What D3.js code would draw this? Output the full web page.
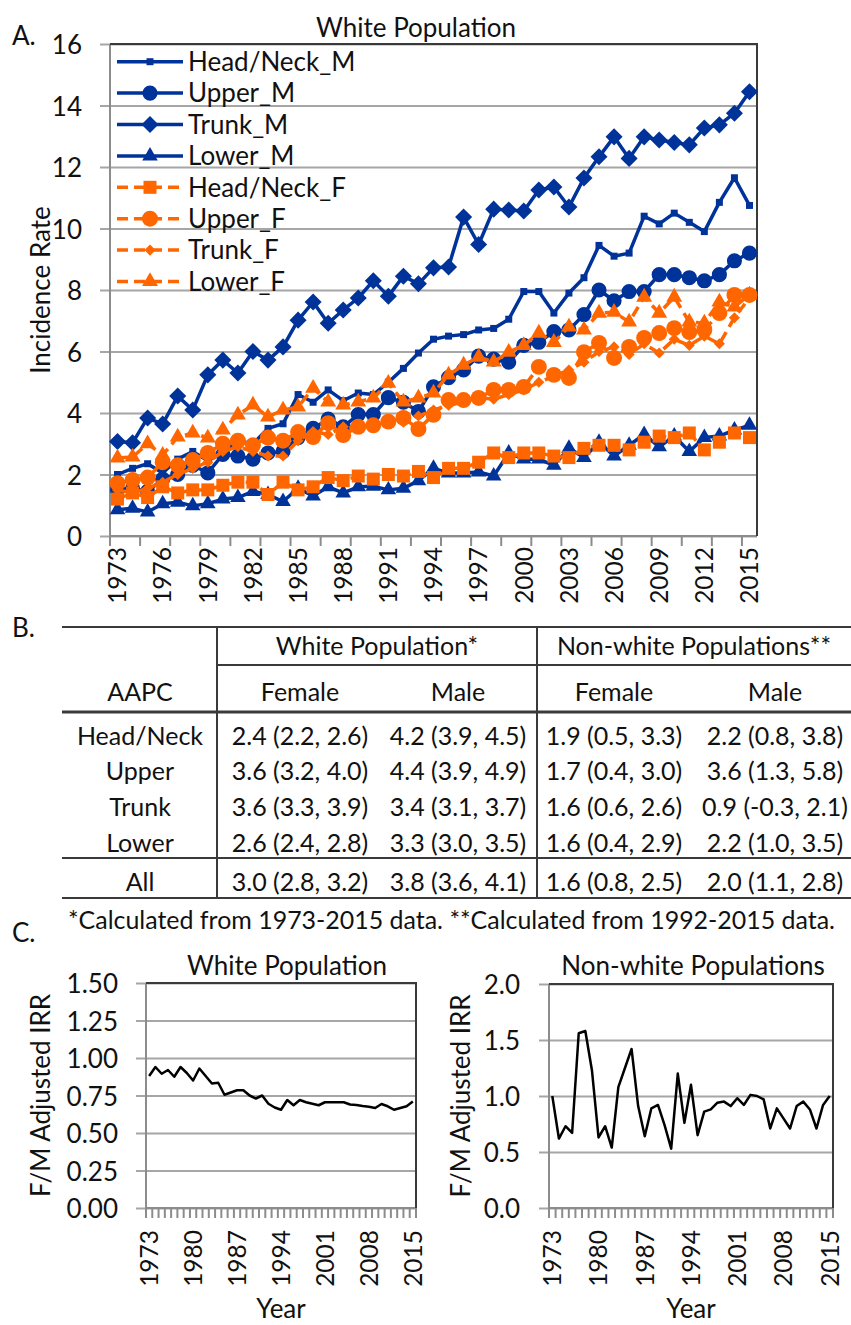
<!doctype html>
<html>
<head>
<meta charset="UTF-8">
<title>Melanoma incidence by site</title>
<script src="https://cdn.jsdelivr.net/npm/d3@7"></script>
<style>
  body { margin: 0; background: #fff; }
  svg text { font-family: Lato, "Open Sans", sans-serif; font-size: 26px; fill: #111; }
  svg text.cell { font-size: 25px; }
  svg text.yr { font-size: 24.5px; }
  svg text.note { font-size: 25px; }
</style>
</head>
<body>
<svg id="fig" width="851" height="1325"></svg>
<script>
// ---------------- data ----------------
var years = d3.range(1973, 2016);

// panel A, white population incidence rates
var headNeckM = [2.0, 2.2, 2.35, 2.05, 2.5, 2.75, 2.45, 2.7, 3.1, 3.0, 3.5, 3.65, 4.6, 4.35, 4.75, 4.4, 4.65, 4.6, 5.0, 5.45, 5.95, 6.4, 6.5, 6.55, 6.7, 6.75, 7.05, 7.95, 7.95, 7.25, 7.9, 8.4, 9.45, 9.1, 9.2, 10.4, 10.15, 10.5, 10.2, 9.9, 10.85, 11.65, 10.75];
var upperM    = [1.5, 1.55, 1.45, 1.85, 2.0, 2.3, 2.05, 2.65, 2.6, 2.5, 2.7, 2.75, 3.2, 3.5, 3.8, 3.55, 3.95, 3.95, 4.5, 4.35, 4.05, 4.85, 5.15, 5.4, 5.85, 5.75, 5.65, 6.2, 6.3, 6.65, 6.7, 7.2, 8.0, 7.65, 7.95, 7.95, 8.5, 8.5, 8.4, 8.3, 8.5, 8.95, 9.2];
var trunkM    = [3.07, 3.03, 3.84, 3.64, 4.55, 4.1, 5.24, 5.72, 5.3, 6.0, 5.72, 6.15, 7.02, 7.61, 6.92, 7.35, 7.74, 8.3, 7.8, 8.45, 8.2, 8.72, 8.75, 10.37, 9.48, 10.63, 10.6, 10.57, 11.25, 11.35, 10.7, 11.64, 12.33, 12.98, 12.28, 12.98, 12.88, 12.8, 12.72, 13.27, 13.37, 13.75, 14.45];
var lowerM    = [0.85, 0.9, 0.78, 1.05, 1.1, 0.98, 1.05, 1.2, 1.25, 1.45, 1.35, 1.12, 1.55, 1.3, 1.6, 1.4, 1.6, 1.62, 1.5, 1.55, 1.8, 2.2, 2.05, 2.05, 2.08, 1.95, 2.7, 2.5, 2.5, 2.3, 2.85, 2.55, 3.05, 2.6, 2.95, 3.3, 2.9, 3.25, 2.75, 3.2, 3.25, 3.45, 3.6];
var headNeckF = [1.2, 1.4, 1.25, 1.6, 1.4, 1.5, 1.5, 1.65, 1.75, 1.75, 1.35, 1.75, 1.5, 1.6, 1.9, 1.8, 1.95, 1.85, 2.0, 1.95, 2.1, 1.9, 2.2, 2.2, 2.4, 2.7, 2.55, 2.7, 2.7, 2.6, 2.55, 2.85, 2.95, 2.95, 2.8, 3.05, 3.25, 3.2, 3.35, 2.8, 3.05, 3.35, 3.2];
var upperF    = [1.72, 1.82, 1.9, 2.4, 2.3, 2.47, 2.7, 3.0, 3.1, 2.95, 3.2, 3.1, 3.38, 3.22, 3.67, 3.28, 3.55, 3.6, 3.72, 3.84, 3.48, 3.94, 4.42, 4.42, 4.49, 4.75, 4.75, 4.85, 5.5, 5.24, 5.14, 5.98, 6.28, 5.79, 6.15, 6.44, 6.6, 6.76, 6.63, 6.7, 7.25, 7.84, 7.84];
var trunkF    = [1.5, 1.4, 1.55, 1.75, 2.0, 2.2, 2.4, 2.75, 2.9, 2.75, 2.6, 2.6, 3.1, 3.4, 3.3, 3.55, 3.5, 3.6, 3.65, 3.7, 3.9, 4.1, 4.25, 4.35, 4.5, 4.45, 4.6, 4.75, 5.0, 5.2, 5.4, 5.65, 6.0, 6.15, 5.9, 6.25, 5.95, 6.4, 6.2, 6.5, 6.25, 7.1, 7.75];
var lowerF    = [2.54, 2.57, 3.0, 2.63, 3.22, 3.35, 3.19, 3.45, 3.94, 4.26, 3.87, 4.1, 4.2, 4.81, 4.36, 4.26, 4.36, 4.49, 4.97, 4.36, 4.49, 4.65, 5.24, 5.56, 5.82, 5.66, 5.98, 6.2, 6.6, 6.3, 6.8, 6.7, 7.25, 7.28, 6.96, 7.77, 7.25, 7.77, 6.96, 6.93, 7.61, 7.45, 7.84];
var yTicksA = [0, 2, 4, 6, 8, 10, 12, 14, 16];

// panel B, AAPC table
var tableSites     = ["Head/Neck", "Upper", "Trunk", "Lower", "All"];
var whiteFemale    = ["2.4 (2.2, 2.6)", "3.6 (3.2, 4.0)", "3.6 (3.3, 3.9)", "2.6 (2.4, 2.8)", "3.0 (2.8, 3.2)"];
var whiteMale      = ["4.2 (3.9, 4.5)", "4.4 (3.9, 4.9)", "3.4 (3.1, 3.7)", "3.3 (3.0, 3.5)", "3.8 (3.6, 4.1)"];
var nonWhiteFemale = ["1.9 (0.5, 3.3)", "1.7 (0.4, 3.0)", "1.6 (0.6, 2.6)", "1.6 (0.4, 2.9)", "1.6 (0.8, 2.5)"];
var nonWhiteMale   = ["2.2 (0.8, 3.8)", "3.6 (1.3, 5.8)", "0.9 (-0.3, 2.1)", "2.2 (1.0, 3.5)", "2.0 (1.1, 2.8)"];

// panel C, F/M adjusted IRR
var whiteIRR    = [0.88, 0.94, 0.895, 0.92, 0.875, 0.94, 0.90, 0.85, 0.93, 0.88, 0.83, 0.835, 0.755, 0.77, 0.785, 0.785, 0.75, 0.73, 0.75, 0.695, 0.67, 0.655, 0.72, 0.685, 0.72, 0.705, 0.695, 0.685, 0.705, 0.705, 0.705, 0.705, 0.69, 0.687, 0.68, 0.675, 0.667, 0.693, 0.678, 0.655, 0.667, 0.678, 0.71];
var nonWhiteIRR = [1.0, 0.62, 0.73, 0.67, 1.56, 1.58, 1.23, 0.63, 0.73, 0.54, 1.08, 1.25, 1.42, 0.91, 0.64, 0.89, 0.92, 0.74, 0.53, 1.2, 0.76, 1.1, 0.65, 0.86, 0.88, 0.94, 0.95, 0.91, 0.98, 0.92, 1.01, 1.0, 0.97, 0.71, 0.89, 0.80, 0.71, 0.91, 0.95, 0.88, 0.71, 0.92, 1.0];
var yTicksWhite    = [0, 0.25, 0.5, 0.75, 1, 1.25, 1.5];
var yTicksNonWhite = [0, 0.5, 1, 1.5, 2];

// ---------------- drawing ----------------
var svg = d3.select("#fig");
var blue = "#003399", orange = "#ff6600", grid = "#a6a6a6", frameCol = "#3a3a3a";

svg.append("rect").attr("width", 851).attr("height", 1325).attr("fill", "#fff");

function yGrid(g, scale, ticks, fmt, x0, x1, pad) {
  g.attr("transform", "translate(" + x0 + ",0)")
    .call(d3.axisLeft(scale).tickValues(ticks).tickFormat(fmt)
      .tickSizeInner(-(x1 - x0)).tickSizeOuter(0).tickPadding(pad));
  g.select(".domain").remove();
  g.selectAll(".tick line").attr("x1", -10).attr("stroke", grid).attr("stroke-width", 2);
  g.selectAll(".tick text").attr("dy", "0.38em");
}

function frame(g, x0, x1, y0, y1) {
  g.append("line").attr("x1", x0).attr("x2", x0).attr("y1", y0).attr("y2", y1).attr("stroke", "#8c8c8c").attr("stroke-width", 2);
  g.append("line").attr("x1", x0).attr("x2", x1).attr("y1", y1).attr("y2", y1).attr("stroke", "#8c8c8c").attr("stroke-width", 2);
  g.append("path").attr("d", "M" + x0 + "," + y0 + "H" + x1 + "V" + y1)
    .attr("fill", "none").attr("stroke", frameCol).attr("stroke-width", 2);
}

function catTicks(g, xs, every, yb) {
  var bw = xs.bandwidth();
  var idx = d3.range(0, years.length + 1, every).filter(function(i) { return i <= years.length - (every > 1 ? 1 : 0); });
  g.selectAll(null).data(idx).enter().append("line")
    .attr("x1", function(i) { return xs.range()[0] + i * bw; })
    .attr("x2", function(i) { return xs.range()[0] + i * bw; })
    .attr("y1", yb).attr("y2", yb + 10)
    .attr("stroke", "#8c8c8c").attr("stroke-width", 2);
}

function yearLabels(g, xs, every, ytop) {
  g.selectAll(null).data(years.filter(function(d, i) { return i % every === 0; })).enter()
    .append("text").attr("class", "yr")
    .attr("transform", function(d) { return "translate(" + (xs(d) + xs.bandwidth() / 2) + "," + ytop + ") rotate(-90)"; })
    .attr("text-anchor", "end").attr("dy", "0.36em")
    .text(function(d) { return d; });
}

// ===== Panel A =====
var A = { left: 110, right: 757, top: 44, bottom: 536 };
var xA = d3.scaleBand().domain(years).range([A.left, A.right]);
var yA = d3.scaleLinear().domain([0, 16]).range([A.bottom, A.top]);
var gA = svg.append("g");

yGrid(gA.append("g"), yA, yTicksA, d3.format("d"), A.left, A.right, 28);
frame(gA, A.left, A.right, A.top, A.bottom);
catTicks(gA, xA, 2, A.bottom);
yearLabels(gA, xA, 3, 547);

gA.append("text").attr("x", 416).attr("y", 37).attr("text-anchor", "middle").text("White Population");
gA.append("text").attr("x", 12).attr("y", 45).text("A.");
gA.append("text").attr("transform", "translate(50,290) rotate(-90)").attr("text-anchor", "middle").text("Incidence Rate");

var seriesA = [
  { name: "Head/Neck_M", values: headNeckM, color: blue,   dash: null,   shape: d3.symbolSquare,   size: 49 },
  { name: "Upper_M",     values: upperM,    color: blue,   dash: null,   shape: d3.symbolCircle,   size: 180 },
  { name: "Trunk_M",     values: trunkM,    color: blue,   dash: null,   shape: d3.symbolDiamond2, size: 185 },
  { name: "Lower_M",     values: lowerM,    color: blue,   dash: null,   shape: d3.symbolTriangle, size: 105 },
  { name: "Head/Neck_F", values: headNeckF, color: orange, dash: "11,6", shape: d3.symbolSquare,   size: 169 },
  { name: "Upper_F",     values: upperF,    color: orange, dash: "11,6", shape: d3.symbolCircle,   size: 200 },
  { name: "Trunk_F",     values: trunkF,    color: orange, dash: "11,6", shape: d3.symbolDiamond2, size: 78 },
  { name: "Lower_F",     values: lowerF,    color: orange, dash: "11,6", shape: d3.symbolTriangle, size: 110 }
];

var lineA = d3.line()
  .x(function(d, i) { return xA(years[i]) + xA.bandwidth() / 2; })
  .y(function(d) { return yA(d); });

seriesA.forEach(function(s) {
  var g = gA.append("g");
  g.append("path").attr("d", lineA(s.values))
    .attr("fill", "none").attr("stroke", s.color).attr("stroke-width", 3.5)
    .attr("stroke-dasharray", s.dash).attr("stroke-linejoin", "round");
  g.selectAll(null).data(s.values).enter().append("path")
    .attr("d", d3.symbol().type(s.shape).size(s.size))
    .attr("transform", function(d, i) { return "translate(" + (xA(years[i]) + xA.bandwidth() / 2) + "," + yA(d) + ")"; })
    .attr("fill", s.color);
});

// legend
var leg = gA.append("g");
seriesA.forEach(function(s, k) {
  var ly = 61.7 + k * 31.4;
  leg.append("line").attr("x1", 117).attr("x2", 183).attr("y1", ly).attr("y2", ly)
    .attr("stroke", s.color).attr("stroke-width", 3.5).attr("stroke-dasharray", s.dash);
  leg.append("path").attr("d", d3.symbol().type(s.shape).size(s.size)())
    .attr("transform", "translate(150," + ly + ")").attr("fill", s.color);
  leg.append("text").attr("x", 188).attr("y", ly).attr("dy", "0.36em").text(s.name);
});

// ===== Panel B =====
var gB = svg.append("g");
var ruleL = 62, ruleR = 851, vline1 = 217, vline2 = 537;
var colX = [140, 300, 458, 614, 775];
var rowY = [736, 771, 807, 843, 882];

gB.append("text").attr("x", 12).attr("y", 637).text("B.");
function rule(x1, x2, y, w) {
  gB.append("line").attr("x1", x1).attr("x2", x2).attr("y1", y).attr("y2", y)
    .attr("stroke", frameCol).attr("stroke-width", w);
}
rule(ruleL, ruleR, 627, 2);
rule(vline1, ruleR, 665, 2);
rule(ruleL, ruleR, 712, 3);
rule(ruleL, ruleR, 858, 2);
rule(ruleL, ruleR, 898, 2);
[vline1, vline2].forEach(function(vx) {
  gB.append("line").attr("x1", vx).attr("x2", vx).attr("y1", 627).attr("y2", 898)
    .attr("stroke", frameCol).attr("stroke-width", 2);
});

function cell(x, y, t) {
  gB.append("text").attr("class", "cell").attr("x", x).attr("y", y).attr("dy", "0.36em")
    .attr("text-anchor", "middle").text(t);
}
cell((vline1 + vline2) / 2, 646, "White Population*");
cell((vline2 + ruleR) / 2, 646, "Non-white Populations**");
cell(colX[0], 692, "AAPC");
cell(colX[1], 692, "Female");
cell(colX[2], 692, "Male");
cell(colX[3], 692, "Female");
cell(colX[4], 692, "Male");
tableSites.forEach(function(site, r) {
  cell(colX[0], rowY[r], site);
  cell(colX[1], rowY[r], whiteFemale[r]);
  cell(colX[2], rowY[r], whiteMale[r]);
  cell(colX[3], rowY[r], nonWhiteFemale[r]);
  cell(colX[4], rowY[r], nonWhiteMale[r]);
});
gB.append("text").attr("class", "note").attr("x", 68).attr("y", 920).attr("dy", "0.36em")
  .attr("textLength", 767).attr("lengthAdjust", "spacingAndGlyphs")
  .text("*Calculated from 1973-2015 data. **Calculated from 1992-2015 data.");

// ===== Panel C =====
var gC = svg.append("g");
gC.append("text").attr("x", 12).attr("y", 942).text("C.");

function irrChart(box, values, ticks, fmt, title, labX) {
  var g = gC.append("g");
  var xs = d3.scaleBand().domain(years).range([box.left, box.right]);
  var ys = d3.scaleLinear().domain([0, ticks[ticks.length - 1]]).range([box.bottom, box.top]);
  yGrid(g.append("g"), ys, ticks, d3.format(fmt), box.left, box.right, box.pad);
  frame(g, box.left, box.right, box.top, box.bottom);
  catTicks(g, xs, 1, box.bottom);
  yearLabels(g, xs, 7, 1230);
  g.append("path")
    .attr("d", d3.line()
      .x(function(d, i) { return xs(years[i]) + xs.bandwidth() / 2; })
      .y(function(d) { return ys(d); })(values))
    .attr("fill", "none").attr("stroke", "#000").attr("stroke-width", 2.5).attr("stroke-linejoin", "round");
  g.append("text").attr("x", box.titleX).attr("y", 975).attr("text-anchor", "middle").text(title);
  g.append("text").attr("transform", "translate(" + labX + "," + (box.top + box.bottom) / 2 + ") rotate(-90)")
    .attr("text-anchor", "middle").text("F/M Adjusted IRR");
  g.append("text").attr("x", (box.left + box.right) / 2).attr("y", 1318).attr("text-anchor", "middle").text("Year");
}

irrChart({ left: 146, right: 416, top: 983, bottom: 1208, pad: 28, titleX: 287 },
  whiteIRR, yTicksWhite, ".2f", "White Population", 50);
irrChart({ left: 549, right: 833, top: 984, bottom: 1208, pad: 29, titleX: 693 },
  nonWhiteIRR, yTicksNonWhite, ".1f", "Non-white Populations", 470);
</script>
</body>
</html>
